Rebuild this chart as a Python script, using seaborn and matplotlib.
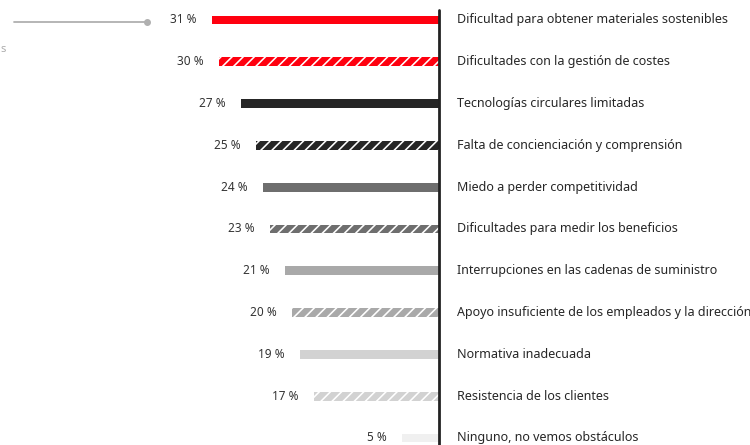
import matplotlib
matplotlib.use("Agg")
import matplotlib.pyplot as plt
import seaborn as sns
from matplotlib.lines import Line2D

categories = [
    "Dificultad para obtener materiales sostenibles",
    "Dificultades con la gestión de costes",
    "Tecnologías circulares limitadas",
    "Falta de concienciación y comprensión",
    "Miedo a perder competitividad",
    "Dificultades para medir los beneficios",
    "Interrupciones en las cadenas de suministro",
    "Apoyo insuficiente de los empleados y la dirección",
    "Normativa inadecuada",
    "Resistencia de los clientes",
    "Ninguno, no vemos obstáculos",
]
values = [31, 30, 27, 25, 24, 23, 21, 20, 19, 17, 5]
value_labels = ["31 %", "30 %", "27 %", "25 %", "24 %", "23 %", "21 %", "20 %", "19 %", "17 %", "5 %"]
colors = ["#ff000f", "#ff000f", "#262626", "#262626", "#6e6e6e", "#6e6e6e",
          "#a9a9a9", "#a9a9a9", "#d2d2d2", "#d2d2d2", "#f0f0f0"]
hatched = [False, True, False, True, False, True, False, True, False, True, False]

sns.set_theme(style="white")
plt.rcParams["font.family"] = ["Noto Sans", "DejaVu Sans"]
plt.rcParams["hatch.linewidth"] = 1.15

W, H = 750, 445
fig = plt.figure(figsize=(W / 100, H / 100), dpi=100)
ax = fig.add_axes([0, 0, 1, 1])

sns.barplot(x=values, y=categories, hue=categories, palette=colors, orient="h",
            width=0.215, legend=False, ax=ax, saturation=1, dodge=False)

for cont, h, c in zip(ax.containers, hatched, colors):
    for p in cont:
        p.set_linewidth(0)
        if h:
            p.set_edgecolor("white")
            p.set_hatch("///")
            p.set_facecolor(c)

pxu = 7.33  # pixels per percent
zero_px = 439
ax.set_xlim(zero_px / pxu, -(W - zero_px) / pxu)
row = 41.8
ax.set_ylim((H - 20) / row, -20 / row)
ax.axis("off")

ax.axvline(0, ymin=0, ymax=1 - 10 / H, color="#222222", lw=2)

for i, (v, lab, cat) in enumerate(zip(values, value_labels, categories)):
    ax.text(v + 2.1, i, lab, ha="right", va="center", fontsize=8.5, color="#333333")
    ax.text(-(457 - zero_px) / pxu, i, cat, ha="left", va="center", fontsize=9.0, color="#262626")

# leader line in the top-left corner
fig.add_artist(Line2D([14 / W, 147 / W], [1 - 22 / H, 1 - 22 / H], color="#b0b0b0", lw=1.3))
fig.add_artist(Line2D([147 / W], [1 - 22 / H], marker="o", markersize=4, color="#b0b0b0"))
fig.text(0.5 / W, 1 - 50 / H, "s", ha="left", va="center", fontsize=8, color="#aaaaaa")

fig.savefig("out.png", dpi=100)
